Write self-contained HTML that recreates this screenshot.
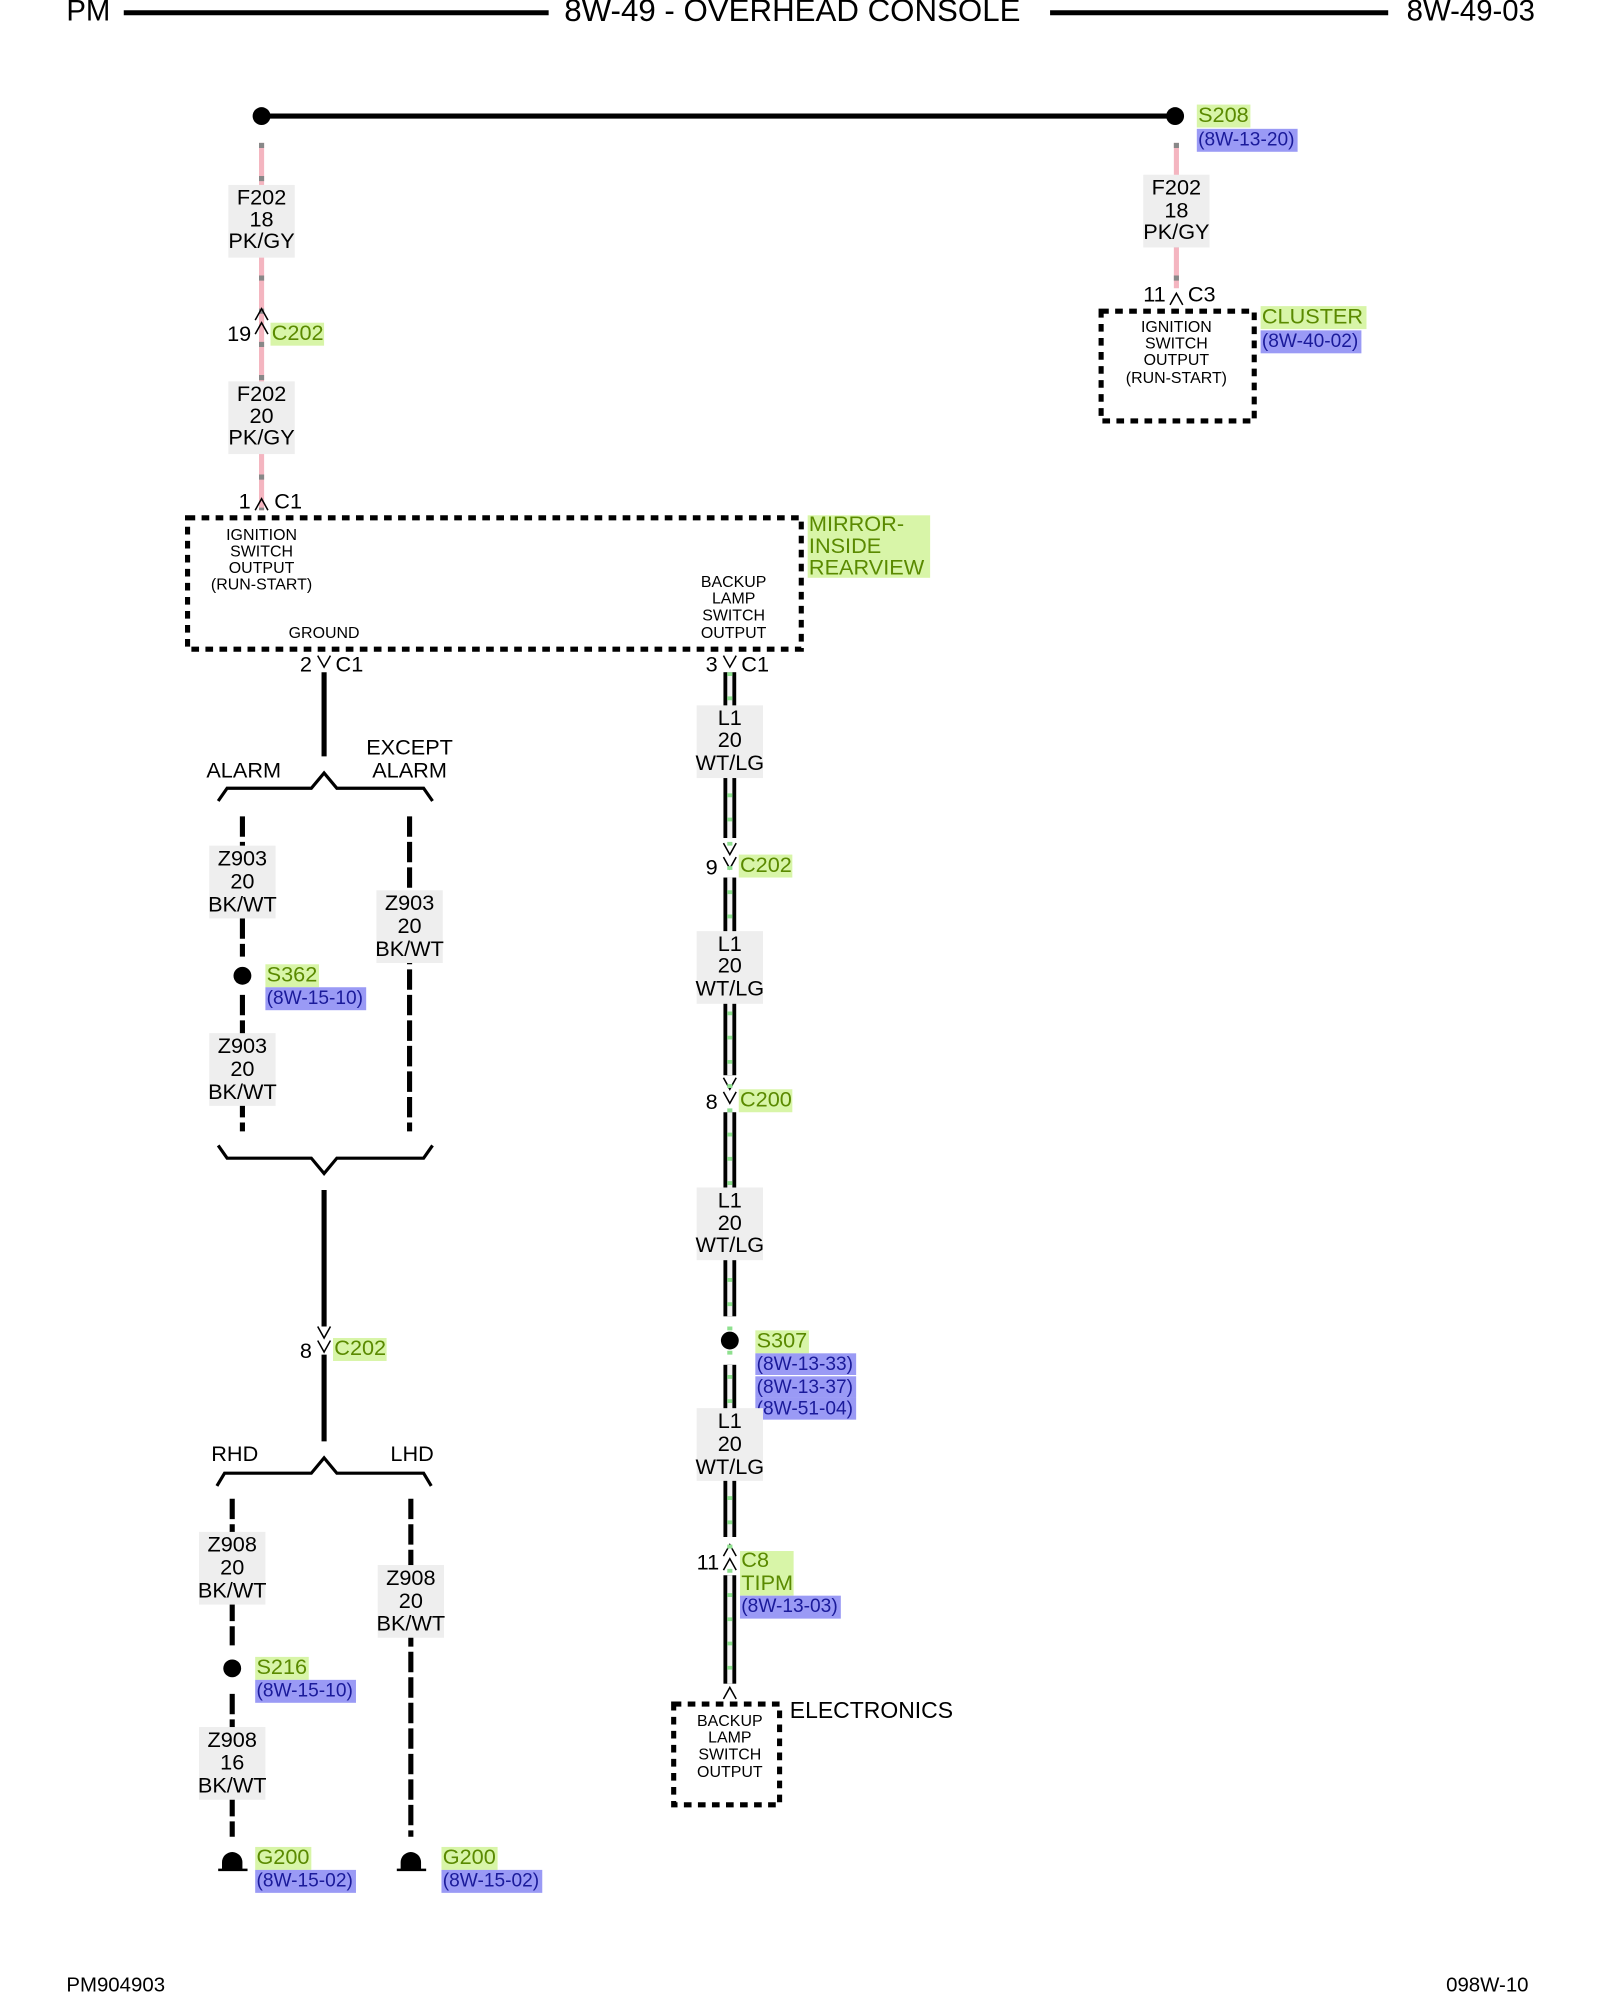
<!DOCTYPE html>
<html><head><meta charset="utf-8"><style>
html,body{margin:0;padding:0;background:#fff;}
svg{display:block;}
text{font-family:"Liberation Sans",sans-serif;fill:#000;}
.l{font-size:17px;text-anchor:middle;dominant-baseline:middle;}
.s{font-size:12.5px;text-anchor:middle;dominant-baseline:middle;}
.c{font-size:17px;dominant-baseline:middle;}
.g{font-size:17px;dominant-baseline:middle;fill:#5a8a00;}
.b{font-size:15px;dominant-baseline:middle;fill:#1a1a9a;}
</style></head><body>
<svg width="1600" height="2000" viewBox="0 0 1254 1568" preserveAspectRatio="none" xmlns="http://www.w3.org/2000/svg">
<rect width="1254" height="1568" fill="#fff"/>
<!-- header -->
<text x="52" y="10" style="font-size:23px;dominant-baseline:middle">PM</text>
<line x1="97" y1="10" x2="430" y2="10" stroke="#000" stroke-width="4"/>
<text x="621" y="10" style="font-size:24.5px;text-anchor:middle;dominant-baseline:middle">8W-49 - OVERHEAD CONSOLE</text>
<line x1="823" y1="10" x2="1088" y2="10" stroke="#000" stroke-width="4"/>
<text x="1203" y="10" style="font-size:23px;text-anchor:end;dominant-baseline:middle">8W-49-03</text>
<text x="52" y="1557" style="font-size:16px;dominant-baseline:middle">PM904903</text>
<text x="1198" y="1557" style="font-size:16px;text-anchor:end;dominant-baseline:middle">098W-10</text>

<!-- bus -->
<line x1="205" y1="91" x2="921" y2="91" stroke="#000" stroke-width="4"/>
<circle cx="205" cy="91" r="7"/><circle cx="921" cy="91" r="7"/>
<rect x="938" y="82" width="42" height="18" fill="#d8f5a8"/><text class="g" x="939" y="91">S208</text>
<rect x="938" y="101" width="79" height="18" fill="#9a9af5"/><text class="b" x="939" y="110">(8W-13-20)</text>

<!-- pink wires -->
<g stroke-width="4">
<line x1="205" y1="112" x2="205" y2="400" stroke="#f4b5c0"/>
<line x1="205" y1="112" x2="205" y2="400" stroke="#888" stroke-dasharray="4 22"/>
<line x1="922" y1="112" x2="922" y2="226" stroke="#f4b5c0"/>
<line x1="922" y1="112" x2="922" y2="226" stroke="#888" stroke-dasharray="4 22"/>
</g>
<rect x="179" y="145" width="52" height="57" fill="#eee"/>
<text class="l" x="205" y="156">F202</text><text class="l" x="205" y="173">18</text><text class="l" x="205" y="190">PK/GY</text>
<rect x="179" y="299" width="52" height="57" fill="#eee"/>
<text class="l" x="205" y="310">F202</text><text class="l" x="205" y="327">20</text><text class="l" x="205" y="344">PK/GY</text>
<rect x="896" y="137" width="52" height="57" fill="#eee"/>
<text class="l" x="922" y="148">F202</text><text class="l" x="922" y="166">18</text><text class="l" x="922" y="183">PK/GY</text>

<g fill="none" stroke="#000" stroke-width="1.2">
<polyline points="200,251 205,242 210,251"/><polyline points="200,262 205,253 210,262"/>
<polyline points="200,400 205,391 210,400"/>
<polyline points="917,239 922,230 927,239"/>
<polyline points="249,514 254,523 259,514"/>
<polyline points="567,514 572,523 577,514"/>
<polyline points="567,661 572,670 577,661"/><polyline points="567,672 572,681 577,672"/>
<polyline points="567,845 572,854 577,845"/><polyline points="567,856 572,865 577,856"/>
<polyline points="249,1040 254,1049 259,1040"/><polyline points="249,1051 254,1060 259,1051"/>
<polyline points="567,1220 572,1211 577,1220"/><polyline points="567,1231 572,1222 577,1231"/>
<polyline points="567,1332 572,1323 577,1332"/>
</g>
<text class="c" x="178" y="263">19</text>
<rect x="212" y="253" width="42" height="18" fill="#d8f5a8"/><text class="g" x="213" y="262">C202</text>
<text class="c" x="187" y="394">1</text><text class="c" x="215" y="394">C1</text>
<text class="c" x="896" y="232">11</text><text class="c" x="931" y="232">C3</text>

<!-- boxes -->
<g fill="none" stroke="#000" stroke-width="4" stroke-dasharray="6 5">
<rect x="147" y="406" width="481" height="103"/>
<rect x="863" y="244" width="120" height="86"/>
<rect x="528" y="1336" width="83" height="79"/>
</g>
<text class="s" x="205" y="420">IGNITION</text><text class="s" x="205" y="433">SWITCH</text><text class="s" x="205" y="446">OUTPUT</text><text class="s" x="205" y="459">(RUN-START)</text>
<text class="s" x="254" y="497">GROUND</text>
<text class="s" x="575" y="457">BACKUP</text><text class="s" x="575" y="470">LAMP</text><text class="s" x="575" y="483">SWITCH</text><text class="s" x="575" y="497">OUTPUT</text>
<rect x="633" y="404" width="96" height="49" fill="#d8f5a8"/>
<text class="g" x="634" y="412">MIRROR-</text><text class="g" x="634" y="429">INSIDE</text><text class="g" x="634" y="446">REARVIEW</text>
<text class="s" x="922" y="257">IGNITION</text><text class="s" x="922" y="270">SWITCH</text><text class="s" x="922" y="283">OUTPUT</text><text class="s" x="922" y="297">(RUN-START)</text>
<rect x="988" y="240" width="83" height="18" fill="#d8f5a8"/><text class="g" x="989" y="249">CLUSTER</text>
<rect x="988" y="259" width="79" height="18" fill="#9a9af5"/><text class="b" x="989" y="268">(8W-40-02)</text>
<text class="s" x="572" y="1350">BACKUP</text><text class="s" x="572" y="1363">LAMP</text><text class="s" x="572" y="1376">SWITCH</text><text class="s" x="572" y="1390">OUTPUT</text>
<text class="c" x="619" y="1342" style="font-size:18px">ELECTRONICS</text>

<!-- ground tree -->
<text class="c" x="235" y="522">2</text><text class="c" x="263" y="522">C1</text>
<line x1="254" y1="527" x2="254" y2="593" stroke="#000" stroke-width="4"/>
<text class="l" x="191" y="605">ALARM</text>
<text class="l" x="321" y="587">EXCEPT</text><text class="l" x="321" y="605">ALARM</text>
<g fill="none" stroke="#000" stroke-width="2.5">
<polyline points="171,628 178,618 244,618 254,606 264,618 332,618 339,628"/>
<polyline points="171,898 178,908 244,908 254,920 264,908 332,908 339,898"/>
<polyline points="170,1165 176,1155 244,1155 254,1143 264,1155 332,1155 338,1165"/>
</g>
<g stroke="#000" stroke-width="4" stroke-dasharray="16 4">
<line x1="190" y1="640" x2="190" y2="750"/><line x1="190" y1="780" x2="190" y2="887"/>
<line x1="321" y1="640" x2="321" y2="887"/>
<line x1="182" y1="1175" x2="182" y2="1290"/><line x1="182" y1="1328" x2="182" y2="1440"/>
<line x1="322" y1="1175" x2="322" y2="1440"/>
</g>
<rect x="164" y="663" width="52" height="57" fill="#eee"/>
<text class="l" x="190" y="674">Z903</text><text class="l" x="190" y="692">20</text><text class="l" x="190" y="710">BK/WT</text>
<rect x="164" y="810" width="52" height="57" fill="#eee"/>
<text class="l" x="190" y="821">Z903</text><text class="l" x="190" y="839">20</text><text class="l" x="190" y="857">BK/WT</text>
<rect x="295" y="698" width="52" height="57" fill="#eee"/>
<text class="l" x="321" y="709">Z903</text><text class="l" x="321" y="727">20</text><text class="l" x="321" y="745">BK/WT</text>
<circle cx="190" cy="765" r="7"/>
<rect x="208" y="756" width="42" height="18" fill="#d8f5a8"/><text class="g" x="209" y="765">S362</text>
<rect x="208" y="774" width="79" height="18" fill="#9a9af5"/><text class="b" x="209" y="783">(8W-15-10)</text>

<line x1="254" y1="933" x2="254" y2="1040" stroke="#000" stroke-width="4"/>
<line x1="254" y1="1062" x2="254" y2="1130" stroke="#000" stroke-width="4"/>
<text class="c" x="235" y="1060">8</text>
<rect x="261" y="1049" width="42" height="18" fill="#d8f5a8"/><text class="g" x="262" y="1058">C202</text>
<text class="l" x="184" y="1141">RHD</text><text class="l" x="323" y="1141">LHD</text>

<rect x="156" y="1201" width="52" height="57" fill="#eee"/>
<text class="l" x="182" y="1212">Z908</text><text class="l" x="182" y="1230">20</text><text class="l" x="182" y="1248">BK/WT</text>
<rect x="156" y="1354" width="52" height="57" fill="#eee"/>
<text class="l" x="182" y="1365">Z908</text><text class="l" x="182" y="1383">16</text><text class="l" x="182" y="1401">BK/WT</text>
<rect x="296" y="1227" width="52" height="57" fill="#eee"/>
<text class="l" x="322" y="1238">Z908</text><text class="l" x="322" y="1256">20</text><text class="l" x="322" y="1274">BK/WT</text>
<circle cx="182" cy="1308" r="7"/>
<rect x="200" y="1299" width="42" height="18" fill="#d8f5a8"/><text class="g" x="201" y="1308">S216</text>
<rect x="200" y="1317" width="79" height="18" fill="#9a9af5"/><text class="b" x="201" y="1326">(8W-15-10)</text>
<path d="M174,1466 L174,1460 A8,8 0 0 1 190,1460 L190,1466 Z"/><line x1="171" y1="1466" x2="194" y2="1466" stroke="#000" stroke-width="2"/>
<path d="M314,1466 L314,1460 A8,8 0 0 1 330,1460 L330,1466 Z"/><line x1="311" y1="1466" x2="334" y2="1466" stroke="#000" stroke-width="2"/>
<rect x="200" y="1448" width="44" height="18" fill="#d8f5a8"/><text class="g" x="201" y="1457">G200</text>
<rect x="200" y="1466" width="79" height="18" fill="#9a9af5"/><text class="b" x="201" y="1475">(8W-15-02)</text>
<rect x="346" y="1448" width="44" height="18" fill="#d8f5a8"/><text class="g" x="347" y="1457">G200</text>
<rect x="346" y="1466" width="79" height="18" fill="#9a9af5"/><text class="b" x="347" y="1475">(8W-15-02)</text>

<!-- L1 wire -->
<g>
<rect x="567" y="527" width="10" height="130" fill="#000"/><rect x="570" y="527" width="4" height="130" fill="#f4f4f4"/>
<rect x="567" y="688" width="10" height="155" fill="#000"/><rect x="570" y="688" width="4" height="155" fill="#f4f4f4"/>
<rect x="567" y="872" width="10" height="160" fill="#000"/><rect x="570" y="872" width="4" height="160" fill="#f4f4f4"/>
<rect x="567" y="1070" width="10" height="135" fill="#000"/><rect x="570" y="1070" width="4" height="135" fill="#f4f4f4"/>
<rect x="567" y="1235" width="10" height="85" fill="#000"/><rect x="570" y="1235" width="4" height="85" fill="#f4f4f4"/>
<line x1="572" y1="527" x2="572" y2="1320" stroke="#8fe08f" stroke-width="4" stroke-dasharray="3 16"/>
</g>
<text class="c" x="553" y="522">3</text><text class="c" x="581" y="522">C1</text>
<rect x="546" y="553" width="52" height="57" fill="#eee"/>
<text class="l" x="572" y="564">L1</text><text class="l" x="572" y="581">20</text><text class="l" x="572" y="599">WT/LG</text>
<text class="c" x="553" y="681">9</text>
<rect x="579" y="670" width="42" height="18" fill="#d8f5a8"/><text class="g" x="580" y="679">C202</text>
<rect x="546" y="730" width="52" height="57" fill="#eee"/>
<text class="l" x="572" y="741">L1</text><text class="l" x="572" y="758">20</text><text class="l" x="572" y="776">WT/LG</text>
<text class="c" x="553" y="865">8</text>
<rect x="579" y="854" width="42" height="18" fill="#d8f5a8"/><text class="g" x="580" y="863">C200</text>
<rect x="546" y="931" width="52" height="57" fill="#eee"/>
<text class="l" x="572" y="942">L1</text><text class="l" x="572" y="960">20</text><text class="l" x="572" y="977">WT/LG</text>
<circle cx="572" cy="1051" r="7"/>
<rect x="592" y="1043" width="42" height="18" fill="#d8f5a8"/><text class="g" x="593" y="1052">S307</text>
<rect x="592" y="1061" width="79" height="17" fill="#9a9af5"/><text class="b" x="593" y="1070">(8W-13-33)</text>
<rect x="592" y="1079" width="79" height="17" fill="#9a9af5"/><text class="b" x="593" y="1088">(8W-13-37)</text>
<rect x="592" y="1096" width="79" height="17" fill="#9a9af5"/><text class="b" x="593" y="1105">(8W-51-04)</text>
<rect x="546" y="1104" width="52" height="57" fill="#eee"/>
<text class="l" x="572" y="1115">L1</text><text class="l" x="572" y="1133">20</text><text class="l" x="572" y="1151">WT/LG</text>
<text class="c" x="546" y="1226">11</text>
<rect x="580" y="1216" width="42" height="35" fill="#d8f5a8"/>
<text class="g" x="581" y="1224">C8</text><text class="g" x="581" y="1242">TIPM</text>
<rect x="580" y="1251" width="79" height="18" fill="#9a9af5"/><text class="b" x="581" y="1260">(8W-13-03)</text>
</svg>
</body></html>
